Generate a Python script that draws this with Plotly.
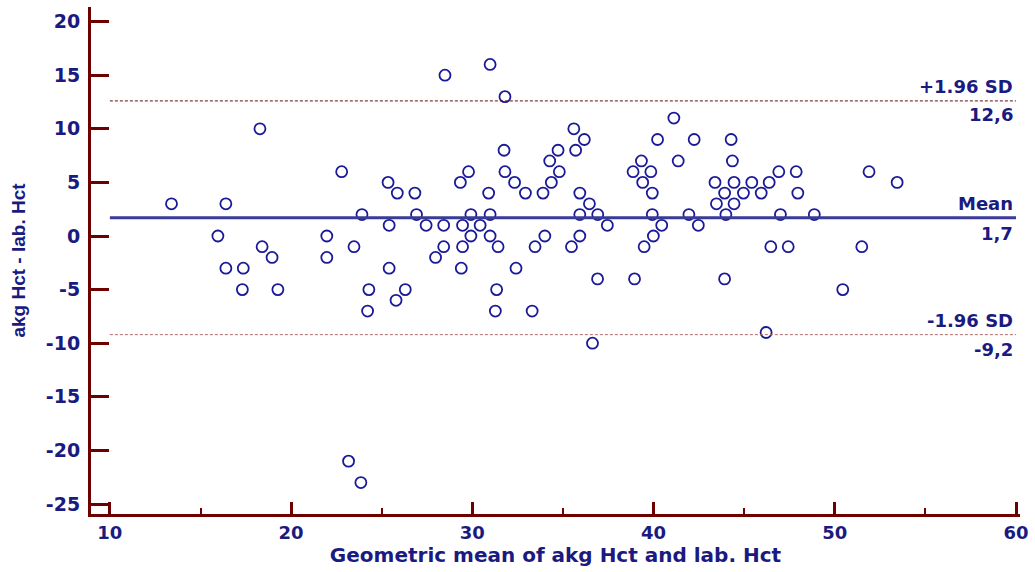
import plotly.graph_objects as go

# Geometric mean of akg Hct and lab. Hct (x) and difference akg Hct - lab. Hct (y)
gmean = [13.40, 15.96, 16.40, 16.40, 17.31, 17.36, 18.28, 18.40, 18.95, 19.27,
         21.97, 21.97, 22.79, 23.17, 23.47, 23.85, 23.91, 24.22, 24.29, 25.35,
         25.41, 25.41, 25.79, 25.86, 26.30, 26.83, 26.92, 27.45, 27.97, 28.42,
         28.42, 28.49, 29.34, 29.39, 29.46, 29.46, 29.79, 29.92, 29.92, 30.43,
         30.90, 30.98, 30.98, 30.98, 31.34, 31.27, 31.42, 31.75, 31.80, 31.80,
         32.33, 32.41, 32.93, 33.30, 33.46, 33.90, 34.00, 34.27, 34.36, 34.73,
         34.80, 35.47, 35.60, 35.70, 35.93, 35.93, 35.93, 36.18, 36.46, 36.63,
         36.92, 36.91, 37.45, 38.87, 38.95, 39.33, 39.40, 39.48, 39.85, 39.93,
         39.93, 39.99, 40.22, 40.45, 41.12, 41.36, 41.95, 42.24, 42.47, 43.39,
         43.47, 43.92, 43.92, 43.99, 44.28, 44.35, 44.44, 44.44, 44.96, 45.42,
         45.94, 46.21, 46.38, 46.47, 46.91, 47.00, 47.43, 47.87, 47.96, 48.87,
         50.44, 51.49, 51.89, 53.44]
diff = [3, 0, 3, -3, -5, -3, 10, -1, -2, -5,
        0, -2, 6, -21, -1, -23, 2, -7, -5, 5,
        1, -3, -6, 4, -5, 4, 2, 1, -2, 1,
        -1, 15, 5, -3, 1, -1, 6, 2, 0, 1,
        4, 16, 2, 0, -5, -7, -1, 8, 13, 6,
        5, -3, 4, -7, -1, 4, 0, 7, 5, 8,
        6, -1, 10, 8, 4, 2, 0, 9, 3, -10,
        2, -4, 1, 6, -4, 7, 5, -1, 6, 4,
        2, 0, 9, 1, 11, 7, 2, 9, 1, 5,
        3, 4, -4, 2, 9, 7, 5, 3, 4, 5,
        4, -9, 5, -1, 6, 2, -1, 6, 4, 2,
        -5, -1, 6, 5]

mean_diff = 1.7
upper_loa = 12.6
lower_loa = -9.2
line_x = [10, 60]

x_ticks = [10, 20, 30, 40, 50, 60]
y_ticks = [20, 15, 10, 5, 0, -5, -10, -15, -20, -25]

NAVY = "#1a1a80"
MAROON = "#6e0000"
WIDE = "DejaVu Sans, Verdana, sans-serif"
FONT = "Liberation Sans, Arial, sans-serif"

fig = go.Figure()

fig.add_trace(go.Scatter(
    x=gmean, y=diff, mode="markers",
    marker=dict(symbol="circle-open", size=11, color="#1a1a99",
                line=dict(width=1.8, color="#1a1a99")),
    showlegend=False, hoverinfo="skip"))

fig.add_trace(go.Scatter(x=line_x, y=[mean_diff, mean_diff], mode="lines",
                         line=dict(color="#3a3a98", width=3), showlegend=False))
fig.add_trace(go.Scatter(x=line_x, y=[upper_loa, upper_loa], mode="lines",
                         line=dict(color="#5a1010", width=1, dash="3px,2px"),
                         showlegend=False))
fig.add_trace(go.Scatter(x=line_x, y=[lower_loa, lower_loa], mode="lines",
                         line=dict(color="#b56a6a", width=1, dash="3px,2px"),
                         showlegend=False))

labels = [("+1.96 SD", upper_loa, 14), ("12,6", upper_loa, -14),
          ("Mean", mean_diff, 14), ("1,7", mean_diff, -16),
          ("-1.96 SD", lower_loa, 14), ("-9,2", lower_loa, -15)]
for txt, yv, ys in labels:
    fig.add_annotation(x=60, y=yv, xref="x", yref="y", text=txt,
                       showarrow=False, xanchor="right", yanchor="middle",
                       xshift=-1, yshift=ys,
                       font=dict(family=WIDE, size=18, color=NAVY, weight="bold"))

fig.update_layout(
    width=1035, height=572,
    margin=dict(l=91, r=6, t=7, b=58),
    paper_bgcolor="white", plot_bgcolor="white",
    font=dict(family=WIDE, color=NAVY),
)

fig.update_xaxes(
    range=[8.958, 60.22],
    tickvals=x_ticks, ticktext=[str(v) for v in x_ticks],
    showgrid=False, zeroline=False,
    showline=True, linecolor=MAROON, linewidth=3,
    ticks="inside", ticklen=12, tickwidth=2.5, tickcolor=MAROON,
    minor=dict(ticks="inside", ticklen=6, tickwidth=2, tickcolor=MAROON,
               tickvals=[15, 25, 35, 45, 55]),
    tickfont=dict(family=WIDE, size=18, color=NAVY, weight="bold"),
    ticklabeloverflow="allow",
    ticklabelstandoff=0,
    title=dict(text="Geometric mean of akg Hct and lab. Hct",
               font=dict(family=WIDE, size=20, color=NAVY, weight="bold"),
               standoff=4),
)
fig.update_yaxes(
    range=[-25.93, 21.36],
    tickvals=y_ticks, ticktext=[str(v) for v in y_ticks],
    showgrid=False, zeroline=False,
    showline=True, linecolor=MAROON, linewidth=3,
    ticks="inside", ticklen=18, tickwidth=2.5, tickcolor=MAROON,
    tickfont=dict(family=WIDE, size=19, color=NAVY, weight="bold"),
    ticklabelstandoff=4,
    title=dict(text="akg Hct - lab. Hct",
               font=dict(family=FONT, size=19, color=NAVY, weight="bold"),
               standoff=16),
)

fig.write_html("out.html")
